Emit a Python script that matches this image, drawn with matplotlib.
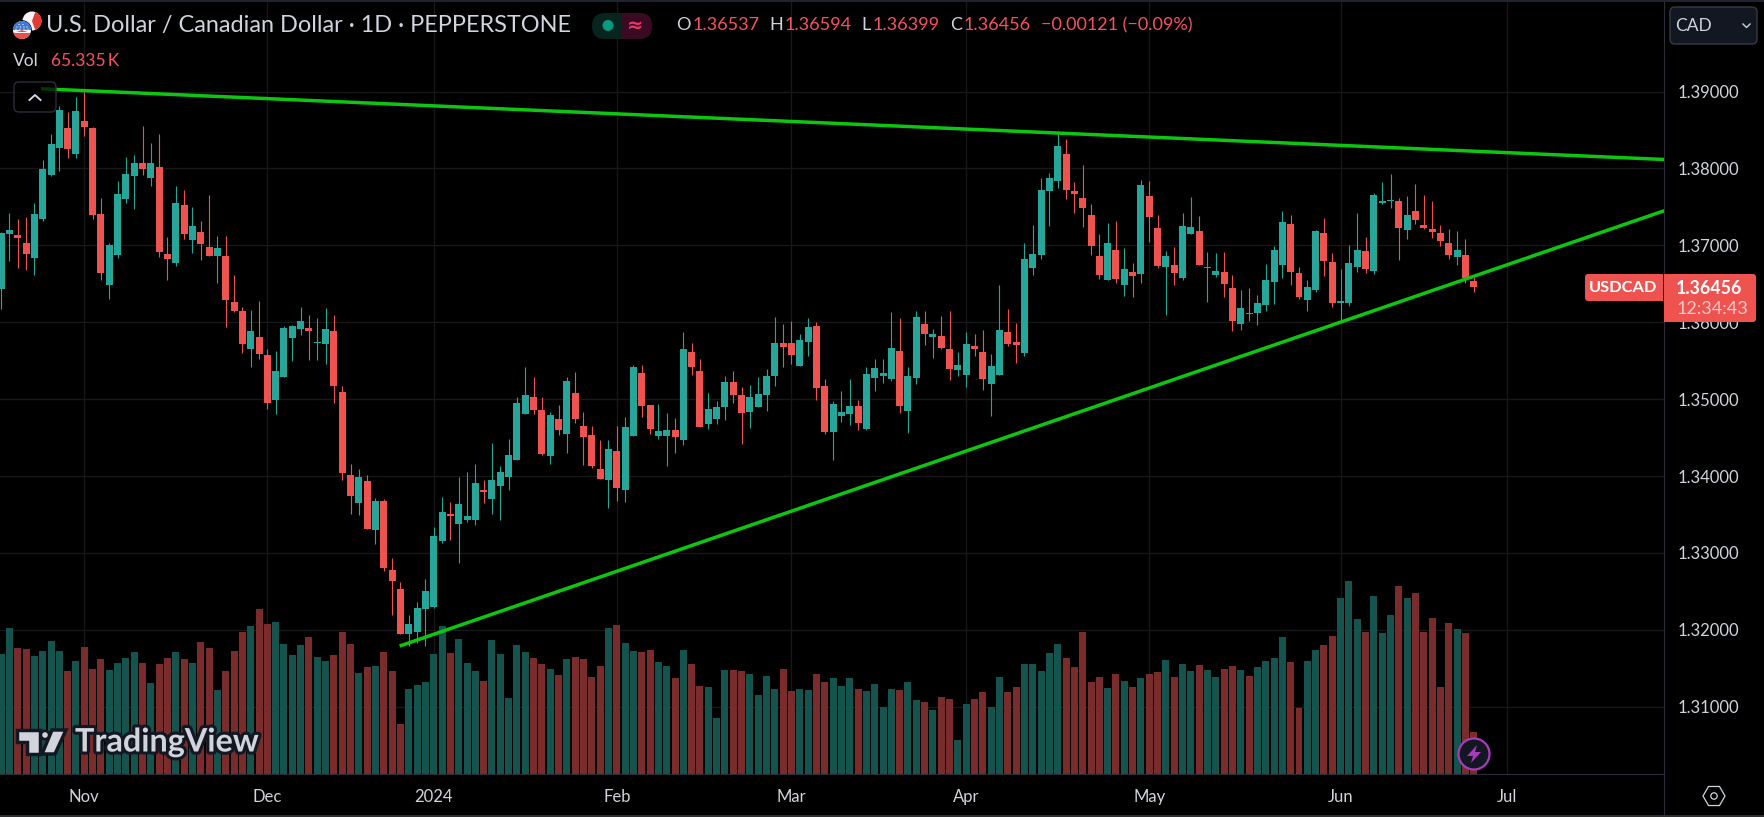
import numpy as np
import matplotlib
matplotlib.use("Agg")
import matplotlib.pyplot as plt
from matplotlib.patches import Circle, FancyBboxPatch, Polygon, Rectangle, Wedge
import matplotlib.patheffects as pe

FONT = "Lato"
plt.rcParams["font.family"] = [FONT, "DejaVu Sans"]

# Prices in points (1 point = 0.00001)
opens = [
136437,137147,137134,137030,136835,137342,137913,138264,138524,138186,
138615,138524,137407,136485,136875,137602,137900,138069,137874,138017,
136887,136771,137524,137069,137173,136978,136861,136861,136264,136147,
135654,135810,135576,134987,135290,135797,135913,135926,135732,135719,
135887,135095,134017,133654,133939,133303,133680,132784,132537,131952,
131978,132277,132303,133160,133511,133381,133433,133433,133814,133706,
133874,133991,134212,134810,135030,134861,134264,134745,134550,135082,
134654,134537,134095,133952,134329,133822,134524,135342,134926,134524,
134524,134602,134472,135615,135368,134680,134745,134900,135225,135056,
134835,134900,135056,135303,135732,135732,135433,135745,135952,135173,
134576,134784,134810,134913,134615,135277,135303,135264,135628,134848,
135277,135978,135810,135823,135654,135381,135316,135693,135615,135199,
135316,135874,135745,135602,136706,136874,137706,137835,138186,137706,
137615,137394,136861,136550,136939,136485,136654,136628,137641,137225,
136719,136745,136576,137147,137186,136706,136615,136654,136446,135978,
136121,136121,136225,136524,136745,137277,136641,136290,136420,137160,
136784,136251,136251,136719,136926,136667,137550,137576,137576,137199,
137446,137264,137212,137160,137030,136848,136875,136537]
highs = [
137178,137416,137342,137364,137545,138108,138446,138810,138732,138926,
139000,138537,137615,137030,137836,138147,138173,138550,138329,138446,
137108,137771,137719,137498,137316,137654,137121,137121,136615,136199,
136160,136277,135654,135628,135952,135965,136199,136095,136056,136186,
136095,135173,134160,134095,134017,133719,133706,132940,132628,132199,
132368,132667,133342,133732,133667,133991,134056,134160,133952,134433,
134134,134485,135030,135420,135290,135030,134835,134926,135290,135355,
134835,134654,134472,134472,134654,134771,135446,135446,134926,134939,
134822,134758,135874,135732,135524,135082,134978,135303,135368,135160,
135186,135290,135394,136069,135978,136017,135848,136056,136004,135264,
134978,135108,135264,134991,135420,135524,135524,136134,136056,135420,
136147,136147,135913,136082,136147,135615,135874,135848,135900,135589,
136485,136173,135991,137030,137264,137874,137939,138446,138381,137823,
138043,137537,137147,137290,137316,136965,136771,137848,137835,137394,
136926,136978,137420,137628,137381,136913,136900,136913,136615,136420,
136446,136355,136758,136991,137446,137394,136719,136550,137199,137355,
136900,136693,137004,137420,137108,137680,137823,137926,137615,137641,
137797,137654,137576,137264,137212,137186,137082,136594]
lows = [
136173,136796,136706,136680,136615,137320,137900,137965,138134,138134,
138420,137342,136550,136303,136835,137550,137472,137913,137771,136848,
136550,136732,137082,136900,136809,136861,136511,135939,136134,135602,
135420,135524,134874,134810,135290,135498,135835,135511,135511,135459,
134952,133952,133511,133498,133316,133121,132771,132199,131952,131784,
131835,131784,132290,133134,133173,132875,133407,133368,133654,133511,
133433,133822,134212,134810,134810,134277,134160,134537,134303,134693,
134147,134108,133965,133589,133680,133667,134524,134771,134550,134485,
134134,134303,134407,135316,134641,134615,134680,134732,134952,134420,
134628,134900,134848,135173,135420,135459,135433,135563,134991,134550,
134212,134706,134667,134602,134602,135108,135212,135238,134822,134563,
135199,135706,135537,135654,135251,135303,135160,135563,135121,134784,
135316,135693,135472,135563,136615,136823,137251,137745,137602,137420,
137238,136874,136563,136550,136511,136342,136329,136511,137043,136706,
136095,136485,136550,137147,136745,136264,136589,136329,135887,135900,
136017,135965,136147,136238,136576,136485,136303,136147,136394,136602,
136199,136030,136212,136654,136641,136628,137537,137485,136810,137082,
137277,137212,137095,136991,136822,136745,136511,136399]
closes = [
137160,137199,137095,136887,137407,137991,138316,138758,138251,138745,
138537,137394,136641,137004,137667,137926,138069,137991,138069,136913,
136822,137550,137147,137251,137017,136861,136965,136290,136147,135719,
135887,135589,134952,135368,135926,135952,136017,135887,135745,135913,
135173,134043,133745,133991,133316,133680,132810,132641,131952,132082,
132290,132511,133225,133537,133485,133641,133485,133905,133788,133952,
134056,134277,134952,135056,134861,134290,134797,134602,135238,134745,
134511,134134,133965,134355,133848,134641,135420,134913,134615,134589,
134602,134511,135654,135420,134641,134874,134900,135225,135056,134822,
135030,135069,135303,135732,135680,135576,135771,135939,135147,134576,
134939,134835,134913,134693,135329,135407,135342,135667,134913,135303,
136069,135848,135848,135667,135394,135446,135719,135654,135264,135433,
135900,135719,135706,136823,136887,137719,137874,138290,137719,137667,
137485,136991,136615,137030,136563,136693,136602,137784,137368,136732,
136861,136641,137251,137238,136745,136719,136667,136498,136017,136186,
136108,136251,136550,136939,137303,136654,136329,136459,137186,136797,
136251,136277,136771,136939,136693,137654,137576,137589,137225,137394,
137329,137225,137173,137056,136875,136939,136577,136456]
# Volume in thousands
volumes = [
186.7,227.1,196.0,194.4,183.5,191.3,206.9,191.3,160.2,175.8,
197.5,163.3,178.9,161.8,172.7,180.4,189.8,172.7,141.6,171.1,
180.4,189.8,178.9,172.7,205.3,196.0,130.7,160.2,191.3,220.9,
230.2,256.7,233.3,236.4,202.2,185.1,200.7,213.1,182.0,175.8,
185.1,220.9,202.2,157.1,166.4,168.0,189.8,160.2,77.8,132.2,
138.4,143.1,186.7,230.2,188.2,210.0,172.7,160.2,144.7,208.4,
186.7,118.2,200.7,189.8,180.4,171.1,163.3,154.0,178.9,182.0,
178.9,150.9,168.0,227.1,231.8,203.8,191.3,189.8,192.9,174.2,
168.0,149.3,192.9,171.1,136.9,135.3,87.1,161.8,161.8,160.2,
155.6,122.9,152.4,132.2,163.3,129.1,132.2,130.7,155.6,143.1,
149.3,136.9,149.3,132.2,129.1,140.0,104.2,132.2,130.7,143.1,
115.1,112.0,99.6,119.8,116.7,52.9,108.9,116.7,127.6,104.2,
150.9,127.6,135.3,171.1,171.1,160.2,188.2,202.2,180.4,166.4,
220.9,143.1,150.9,133.8,155.6,144.7,135.3,149.3,155.6,158.7,
177.3,150.9,171.1,160.2,169.5,161.8,150.9,163.3,168.0,161.8,
152.4,166.4,175.8,180.4,213.1,174.2,102.7,175.8,192.9,200.7,
214.7,273.8,300.2,241.1,220.9,276.9,219.3,247.3,292.4,273.8,
281.5,220.9,242.7,135.3,234.9,225.5,219.3,65.3]

month_labels = ["Nov", "Dec", "2024", "Feb", "Mar", "Apr", "May", "Jun", "Jul"]
month_bars = [10, 32, 52, 74, 95, 116, 138, 161, 181]
price_ticks = [1.31, 1.32, 1.33, 1.34, 1.35, 1.36, 1.37, 1.38, 1.39]

upper_bars = [4.8, 199.9]
upper_prices = [1.39036, 1.38116]
lower_bars = [47.9, 199.9]
lower_prices = [1.31789, 1.3745]

title = "U.S. Dollar / Canadian Dollar \u00b7 1D \u00b7 PEPPERSTONE"
ohlc_parts = [("O", "1.36537"), ("H", "1.36594"), ("L", "1.36399"), ("C", "1.36456")]
change_text = "\u22120.00121 (\u22120.09%)"

W, H = 1764, 817
PANE_R, PANE_B = 1664, 774
UP, DOWN = "#26a69a", "#ef5350"
VOL_UP, VOL_DOWN = "#15534e", "#7a2c2c"
TEXT = "#d1d4dc"
GRID = "#171819"
BORDER = "#2a2e39"

fig = plt.figure(figsize=(W / 100, H / 100), dpi=100, facecolor="black")
rect = [0, (H - PANE_B) / H, PANE_R / W, PANE_B / H]

ax_vol = fig.add_axes(rect, facecolor="black", zorder=1)
ax = fig.add_axes(rect, facecolor="none", zorder=2)

xlim = (-0.132, 199.87)
ylim = (1.30125, 1.4019)
idx = np.arange(len(opens))
o, h, l, c = [np.array(a) / 1e5 for a in (opens, highs, lows, closes)]
rising = c >= o

# volume pane
ax_vol.set_xlim(*xlim)
ax_vol.set_ylim(0, PANE_B * 3 * 0.5185)
ax_vol.axis("off")
for b in month_bars:
    ax_vol.axvline(b, color=GRID, lw=1.0, zorder=0)
for p in price_ticks:
    y = (p - ylim[0]) / (ylim[1] - ylim[0]) * ax_vol.get_ylim()[1]
    ax_vol.axhline(y, color=GRID, lw=1.0, zorder=0)
ax_vol.bar(idx, volumes, width=0.84, linewidth=0, zorder=1,
           color=[VOL_UP if r else VOL_DOWN for r in rising])

# candles
ax.set_xlim(*xlim)
ax.set_ylim(*ylim)
ax.vlines(idx, l, h, colors=[UP if r else DOWN for r in rising], lw=0.8, zorder=2)
body_low = np.minimum(o, c)
body_h = np.maximum(np.abs(c - o), 1.3e-4)
ax.bar(idx, body_h, bottom=body_low, width=0.84, linewidth=0, zorder=3,
       color=[UP if r else DOWN for r in rising])

# trend lines
GREEN_LINE = "#0cc60f"
ax.plot(upper_bars, upper_prices, color=GREEN_LINE, lw=2.5, zorder=4, solid_capstyle="butt")
ax.plot(lower_bars, lower_prices, color=GREEN_LINE, lw=2.5, zorder=4, solid_capstyle="butt")

# axes decoration
ax.yaxis.tick_right()
ax.set_yticks(price_ticks)
ax.set_yticklabels([f"{p:.5f}" for p in price_ticks], color=TEXT, fontsize=12)
ax.set_xticks(month_bars)
ax.set_xticklabels(month_labels, color=TEXT, fontsize=12)
ax.tick_params(axis="both", length=0)
ax.tick_params(axis="y", pad=10)
ax.tick_params(axis="x", pad=11)
for s in ("left", "top"):
    ax.spines[s].set_visible(False)
for s in ("right", "bottom"):
    ax.spines[s].set_color(BORDER)
    ax.spines[s].set_linewidth(0.8)

# overlay for interface furniture, in pixel coordinates
ov = fig.add_axes([0, 0, 1, 1], facecolor="none", zorder=5)
ov.set_xlim(0, W)
ov.set_ylim(H, 0)
ov.axis("off")


def rbox(x0, y0, x1, y1, r, **kw):
    p = FancyBboxPatch((x0 + r, y0 + r), x1 - x0 - 2 * r, y1 - y0 - 2 * r,
                       boxstyle=f"round,pad={r},rounding_size={r}", **kw)
    ov.add_patch(p)
    return p


# window edges
ov.add_patch(Rectangle((0, 0), W, 1.6, color="#1f2330", lw=0))
ov.add_patch(Rectangle((0, H - 1.6), W, 1.6, color="#2a2e39", lw=0))
ov.plot([PANE_R, PANE_R], [PANE_B, H], color=BORDER, lw=0.8)

# flags (y axis of the overlay points down, so wedge angles run clockwise)
ov.add_patch(Circle((32, 21), 9.5, color="#f5f5f5", lw=0))
ov.add_patch(Wedge((32, 21), 9.5, -70, 70, color="#e53935", lw=0))
ov.add_patch(Circle((22, 30), 9.8, color="#000000", lw=0))
ov.add_patch(Circle((22, 30), 9.0, color="#f5f5f5", lw=0))
ov.add_patch(Wedge((22, 30), 9.0, 20, 160, color="#e8504d", lw=0))
ov.add_patch(Rectangle((14.5, 31.5), 15, 1.8, color="#f5f5f5", lw=0))
ov.add_patch(Wedge((22, 30), 9.0, 180, 360, color="#3b78d8", lw=0))
for dx, dy in [(-5, -3), (-1.5, -3), (2, -3), (5, -3), (-3, -5.5), (1, -5.5), (-6, -0.8), (-2, -0.8), (2, -0.8), (6, -0.8)]:
    ov.add_patch(Circle((22 + dx, 30 + dy), 0.6, color="white", lw=0))

# header
ov.text(46, 25, title, color=TEXT, fontsize=16.9, va="center", ha="left")
ov.text(13, 61, "Vol", color=TEXT, fontsize=12.5, va="center", ha="left")
ov.text(51, 61, "65.335\u2009K", color="#f7525f", fontsize=12.5, va="center", ha="left",
        family=[FONT, "DejaVu Sans"])

# status pill
rbox(592, 13, 652, 39, 12.9, fc="#07241f", ec="none")
rbox(622, 13, 652, 39, 12.9, fc="#3a0a22", ec="none")
ov.add_patch(Rectangle((622, 13), 14, 26, fc="#3a0a22", ec="none"))
ov.add_patch(Circle((608, 25.5), 5.5, color="#089981", lw=0))
ov.text(635, 25, "\u2248", color="#f2366c", fontsize=14, ha="center", va="center",
        family="DejaVu Sans", weight="bold")

# OHLC legend
xs = [676, 769, 861, 950]
gaps = [17, 16, 12, 14]
for (lab, val), x, g in zip(ohlc_parts, xs, gaps):
    ov.text(x, 25, lab, color=TEXT, fontsize=13, va="center", ha="left")
    ov.text(x + g, 25, val, color="#f7525f", fontsize=13, va="center", ha="left")
ov.text(1041, 25, change_text, color="#f7525f", fontsize=13, va="center", ha="left")

# collapse button
rbox(14, 82, 56, 112, 5, fc=(0, 0, 0, 0.72), ec="#2a2e39", lw=1.0)
ov.plot([29.5, 35, 40.5], [100, 95, 100], color=TEXT, lw=1.4)

# currency button
rbox(1670, 7, 1757, 44, 5, fc="#131722", ec="#363a45", lw=1.0)
ov.text(1675, 26, "CAD", color=TEXT, fontsize=12.5, va="center", ha="left")
ov.plot([1743, 1746.5, 1750], [24, 27.5, 24], color=TEXT, lw=1.0)

# last price labels
rbox(1585, 274, 1663, 301, 3, fc=DOWN, ec="none")
ov.add_patch(Rectangle((1655, 274), 8, 27, fc=DOWN, ec="none"))
rbox(1664, 274, 1756, 322, 3, fc=DOWN, ec="none")
ov.add_patch(Rectangle((1664, 274), 8, 48, fc=DOWN, ec="none"))
ov.text(1623.5, 288, "USDCAD", color="white", fontsize=11.8, ha="center", va="center", weight="bold")
ov.text(1709, 288, "1.36456", color="white", fontsize=12.8, ha="center", va="center", weight="bold")
ov.text(1712, 309, "12:34:43", color="#fbcaca", fontsize=13, ha="center", va="center")

# lightning badge
ov.add_patch(Circle((1474, 754), 15.5, fc="#131722", ec="#a63cb8", lw=1.6))
ov.add_patch(Polygon([(1477, 745), (1467, 756), (1473, 756), (1471, 763), (1481, 752), (1475, 752)],
                     closed=True, fc="#a63cb8", ec="none"))

# settings hexagon
ang = np.deg2rad(np.arange(0, 360, 60))
ov.add_patch(Polygon(np.c_[1714 + 11 * np.cos(ang), 796 + 11 * np.sin(ang)], closed=True,
                     fc="none", ec=TEXT, lw=0.9))
ov.add_patch(Circle((1714, 796), 3.2, fc="none", ec=TEXT, lw=0.9))

# TradingView logo
halo = [pe.withStroke(linewidth=4.5, foreground="#131722")]
logo = "#d1d4dc"
for pts in ([(17, 730), (40, 730), (40, 754), (27, 754), (27, 742), (17, 742)],
            [(52, 730), (66, 730), (55, 754), (42, 754)]):
    ov.add_patch(Polygon(pts, closed=True, fc=logo, ec="#131722", lw=2.5, zorder=6))
ov.add_patch(Circle((45, 735), 4.2, fc=logo, ec="#131722", lw=2, zorder=6))
ov.text(75, 742, "TradingView", color=logo, fontsize=23.3, weight="bold", va="center", ha="left",
        path_effects=halo, zorder=6)

fig.savefig("out.png", dpi=100, facecolor="black")
